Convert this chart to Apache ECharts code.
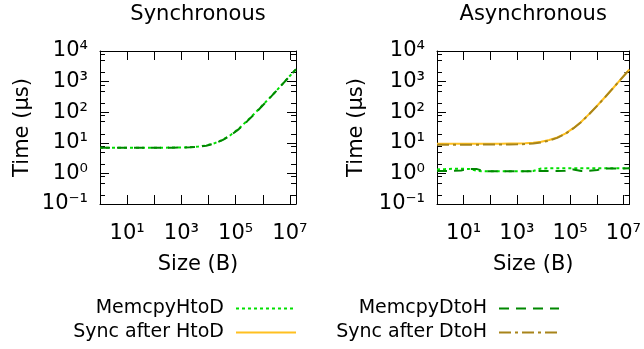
<!DOCTYPE html>
<html>
<head>
<meta charset="utf-8">
<script src="https://cdn.jsdelivr.net/npm/echarts@6/dist/echarts.min.js"></script>
<style>html,body{margin:0;padding:0;background:#fff;}#c{width:644px;height:349px;}</style>
</head>
<body>
<div id="c"></div>
<script>
// ---- data ----
const sizes = [1,2,4,8,16,32,64,128,256,512,1024,2048,4096,8192,16384,32768,65536,131072,262144,524288,1048576,2097152,4194304,8388608,16777216];
const syncMemcpyHtoD = [6.9,6.9,6.9,6.9,6.9,6.9,6.9,6.95,6.95,7.0,7.05,7.15,7.5,8.2,9.6,12.5,18,29,52,95,180,340,660,1300,2550];
const syncMemcpyDtoH = [6.85,6.85,6.85,6.85,6.85,6.85,6.85,6.9,6.9,6.95,7.0,7.1,7.4,8.0,9.4,12.2,17.5,28,50,92,175,335,650,1290,2540];
const asyncMemcpyHtoD = [1.35,1.38,1.42,1.42,1.4,1.2,1.17,1.17,1.17,1.17,1.17,1.18,1.2,1.45,1.47,1.47,1.47,1.47,1.47,1.47,1.47,1.48,1.48,1.48,1.48];
const asyncMemcpyDtoH = [1.2,1.2,1.22,1.25,1.4,1.38,1.17,1.17,1.17,1.17,1.17,1.17,1.18,1.2,1.2,1.2,1.22,1.35,1.2,1.22,1.3,1.45,1.45,1.45,1.46];
const asyncSyncHtoD = [9.3,9.3,9.3,9.3,9.3,9.3,9.3,9.3,9.35,9.4,9.45,9.6,10.0,10.8,12.3,15,20,30,49,88,165,320,630,1250,2480];
const asyncSyncDtoH = [8.7,8.7,8.7,8.7,8.7,8.7,8.75,8.75,8.8,8.85,8.9,9.1,9.5,10.3,11.8,14.5,19.5,29.5,48,87,164,318,628,1248,2475];
const seriesNames = ['MemcpyHtoD','MemcpyDtoH','Sync after HtoD','Sync after DtoH'];
const panelTitles = ['Synchronous','Asynchronous'];
const xLabelExponents = [1,3,5,7];
const yLabelExponents = [-1,0,1,2,3,4];
const yMinorMantissas = [2,5,8];
const xRange = [1,16777216];
const yRange = [0.1,10000];

// ---- styling / building ----
const FONT = 'DejaVu Sans';
const colors = {'MemcpyHtoD':'#00e000','MemcpyDtoH':'#008800','Sync after HtoD':'#ffc020','Sync after DtoH':'#a8841a'};
const dashes = {'MemcpyHtoD':[3,3],'MemcpyDtoH':[10,7],'Sync after HtoD':'solid','Sync after DtoH':[12,4,3,4]};
const SUP = {'0':'⁰','1':'¹','2':'²','3':'³','4':'⁴','5':'⁵','6':'⁶','7':'⁷','8':'⁸','9':'⁹','-':'⁻'};
function pow10Label(r){return '10'+String(r).split('').map(c=>SUP[c]).join('');}
function fmtFor(list){return function(v){const e=Math.log10(v);const r=Math.round(e);if(Math.abs(e-r)>1e-6)return '';return list.indexOf(r)>=0?pow10Label(r):'';};}
const yLogMin=Math.round(Math.log10(yRange[0])), yLogMax=Math.round(Math.log10(yRange[1]));
const minorVals=[];
for(let d=yLogMin;d<yLogMax;d++){yMinorMantissas.forEach(m=>minorVals.push(m*Math.pow(10,d)));}

const grids=[{left:100,top:51,width:196,height:153},{left:437,top:51,width:195,height:153}];
const xAxes=[],yAxes=[];
function axLine(){return {show:true,onZero:false,lineStyle:{color:'#000',width:1}};}
function majTick(){return {show:true,inside:true,length:9,lineStyle:{color:'#000',width:1}};}
function nameStyle(){return {fontSize:21,fontFamily:FONT,color:'#000'};}
grids.forEach((g,gi)=>{
  xAxes.push({type:'log',gridIndex:gi,position:'bottom',min:xRange[0],max:xRange[1],interval:1,
    axisLine:axLine(),axisTick:majTick(),splitLine:{show:false},
    axisLabel:{formatter:fmtFor(xLabelExponents),fontSize:21,fontFamily:FONT,color:'#000',margin:19},
    name:'Size (B)',nameLocation:'middle',nameGap:50,nameTextStyle:nameStyle()});
  xAxes.push({type:'log',gridIndex:gi,position:'top',min:xRange[0],max:xRange[1],interval:1,
    axisLine:axLine(),axisTick:majTick(),splitLine:{show:false},axisLabel:{show:false},
    name:panelTitles[gi],nameLocation:'middle',nameGap:26,nameTextStyle:nameStyle()});
  yAxes.push({type:'log',gridIndex:gi,position:'left',min:yRange[0],max:yRange[1],interval:1,
    axisLine:axLine(),axisTick:majTick(),splitLine:{show:false},
    axisLabel:{formatter:fmtFor(yLabelExponents),fontSize:21,fontFamily:FONT,color:'#000',margin:12},
    name:'Time (µs)',nameLocation:'middle',nameGap:gi===0?67:70,nameTextStyle:nameStyle()});
  yAxes.push({type:'log',gridIndex:gi,position:'right',min:yRange[0],max:yRange[1],interval:1,
    axisLine:axLine(),axisTick:majTick(),splitLine:{show:false},axisLabel:{show:false}});
});

function mk(name,vals,gi){
  return {type:'line',name:name,xAxisIndex:gi*2,yAxisIndex:gi*2,symbol:'none',showSymbol:false,
    data:sizes.map((s,i)=>[s,vals[i]]),
    lineStyle:{color:colors[name],width:2,type:dashes[name]},itemStyle:{color:colors[name]},
    emphasis:{disabled:true}};
}
// minor ticks (2, 5, 8 in each decade) placed through the y log scale, on both plot edges
function minorTicks(gi){
  return {type:'custom',xAxisIndex:gi*2,yAxisIndex:gi*2,
    data:minorVals.map(v=>[xRange[0],v]),
    renderItem:function(params,api){
      const p=api.coord([api.value(0),api.value(1)]);
      const cs=params.coordSys;
      const yy=Math.round(p[1])+0.5;
      return {type:'group',children:[
        {type:'line',shape:{x1:cs.x,y1:yy,x2:cs.x+5,y2:yy},style:{stroke:'#000',lineWidth:1}},
        {type:'line',shape:{x1:cs.x+cs.width-5,y1:yy,x2:cs.x+cs.width,y2:yy},style:{stroke:'#000',lineWidth:1}}
      ]};
    }};
}
const series=[
  mk('MemcpyHtoD',syncMemcpyHtoD,0),
  mk('MemcpyDtoH',syncMemcpyDtoH,0),
  mk('MemcpyHtoD',asyncMemcpyHtoD,1),
  mk('MemcpyDtoH',asyncMemcpyDtoH,1),
  mk('Sync after HtoD',asyncSyncHtoD,1),
  mk('Sync after DtoH',asyncSyncDtoH,1),
  minorTicks(0),minorTicks(1)
];
const legendPos={'MemcpyHtoD':{right:347,top:299},'Sync after HtoD':{right:347,top:323},'MemcpyDtoH':{right:84,top:299},'Sync after DtoH':{right:84,top:323}};
const legends=seriesNames.map(n=>Object.assign({data:[n],orient:'horizontal',align:'right',itemWidth:60,itemHeight:16,padding:0,
  selectedMode:false,itemStyle:{opacity:0},textStyle:{fontSize:19,fontFamily:FONT,color:'#000',padding:[0,7,0,0]}},legendPos[n]));

const chart=echarts.init(document.getElementById('c'),null,{renderer:'canvas'});
chart.setOption({animation:false,backgroundColor:'#fff',grid:grids,xAxis:xAxes,yAxis:yAxes,legend:legends,series:series});
</script>
</body>
</html>
